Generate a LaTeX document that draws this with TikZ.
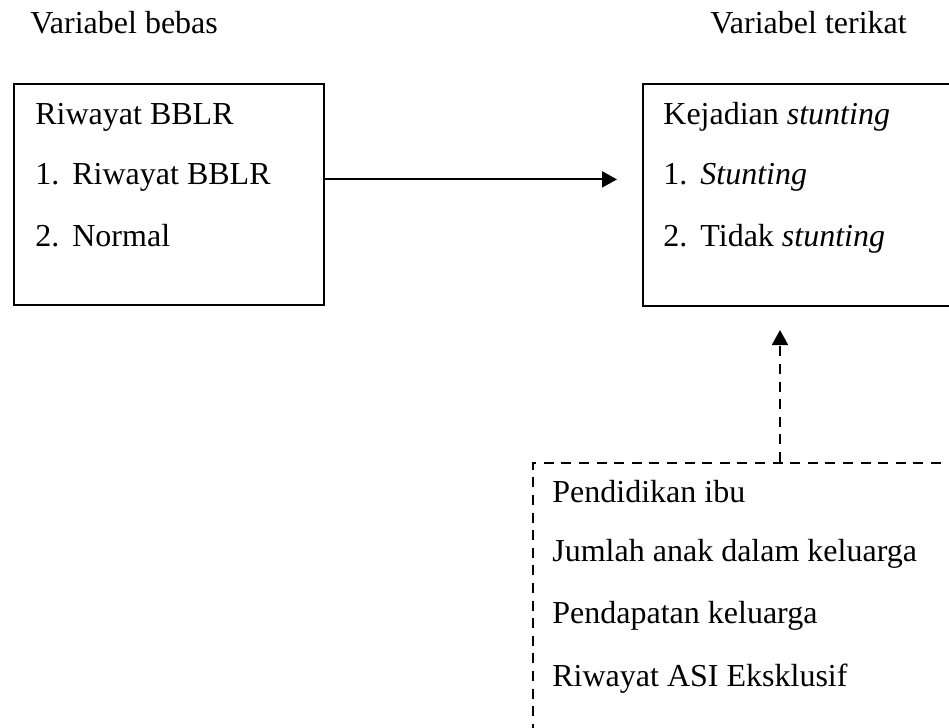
\documentclass[tikz,border=0pt]{standalone}
\usepackage{fontspec}
\setmainfont{Liberation Serif}
\usetikzlibrary{arrows.meta}

\begin{document}
\begin{tikzpicture}[x=0.5pt, y=-0.5pt, >={Triangle[length=7.5pt, width=8pt]},
        every node/.style={font=\fontsize{16}{19}\selectfont, inner sep=0pt},
        box/.style={draw, line width=1pt, rectangle, anchor=north west},
        dbox/.style={box, dash pattern=on 5pt off 3.8pt},
        txt/.style={anchor=base west}]
        % frame
        \useasboundingbox (0,0) rectangle (949,728);
        \clip (0,0) rectangle (949,728);
        % headings
        \node[txt] (hbebas) at (30,33) {Variabel bebas};
        \node[txt] (hterikat) at (710,33) {Variabel terikat};
        % boxes
        \node[box, minimum width=155pt, minimum height=110.5pt] (bebas) at (13,83) {};
        \node[box, minimum width=200pt, minimum height=111pt] (terikat) at (642,83) {};
        \node[dbox, minimum width=247pt, minimum height=150pt] (faktor) at (532,462) {};
        % independent variable
        \node[txt] (bebas0) at (35,124) {Riwayat BBLR};
        \node[txt] (bebas1) at (35,184) {\makebox[18.5pt][l]{1.}Riwayat BBLR};
        \node[txt] (bebas2) at (35,246) {\makebox[18.5pt][l]{2.}Normal};
        % dependent variable
        \node[txt] (terikat0) at (663,124) {Kejadian \textit{stunting}};
        \node[txt] (terikat1) at (663,184) {\makebox[18.5pt][l]{1.}\textit{Stunting}};
        \node[txt] (terikat2) at (663,246) {\makebox[18.5pt][l]{2.}Tidak \textit{stunting}};
        % confounders
        \node[txt] (faktor1) at (552,502) {Pendidikan ibu};
        \node[txt] (faktor2) at (552,561) {Jumlah anak dalam keluarga};
        \node[txt] (faktor3) at (552,623) {Pendapatan keluarga};
        \node[txt] (faktor4) at (552,686) {Riwayat ASI Eksklusif};
        % connectors
        \draw[->, line width=1pt, shorten >=12.5pt] (bebas.east |- bebas1.mid) -- (terikat.west |- bebas1.mid);
        \draw[->, line width=1pt, dash pattern=on 5pt off 3.8pt, shorten >=11.5pt] (faktor.north) -- (faktor.north |- terikat.south);
\end{tikzpicture}
\end{document}
